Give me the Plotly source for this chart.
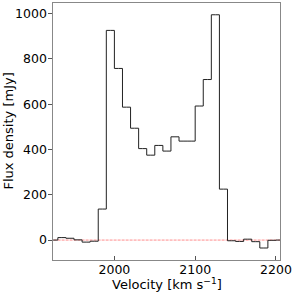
import plotly.graph_objects as go

velocity = [1915, 1925, 1935, 1945, 1955, 1965, 1975, 1985, 1995, 2005, 2015, 2025,
            2035, 2045, 2055, 2065, 2075, 2085, 2095, 2105, 2115, 2125, 2135,
            2145, 2155, 2165, 2175, 2185, 2195, 2205, 2215]
flux = [0, 0, 11, 8, 1, -9, -5, 137, 926, 758, 587, 494,
        404, 375, 418, 393, 456, 437, 437, 592, 709, 995, 225,
        -3, -6, 4, -7, -35, -1, 0, 0]
x_ticks = [2000, 2100, 2200]
y_ticks = [0, 200, 400, 600, 800, 1000]
x_title = "Velocity [km s<sup>−1</sup>]"
y_title = "Flux density [mJy]"

fig = go.Figure()
fig.add_trace(go.Scatter(x=[1900, 2230], y=[0, 0], mode="lines",
                         line=dict(color="rgba(255,0,0,0.5)", width=0.9, dash="3px,1px"),
                         hoverinfo="skip", showlegend=False))
fig.add_trace(go.Scatter(x=velocity, y=flux, mode="lines", line_shape="hvh",
                         line=dict(color="#222222", width=1), showlegend=False))

axis_common = dict(showgrid=False, zeroline=False, showline=True, linecolor="#888888",
                   linewidth=1.3, mirror=True, tickwidth=1,
                   tickcolor="#555555", automargin=False,
                   tickfont=dict(family="DejaVu Sans", size=12.5, color="black"))

title_font = dict(family="DejaVu Sans", size=13, color="black")

fig.update_layout(
    width=296, height=295,
    margin=dict(l=53, r=16, t=3, b=35),
    paper_bgcolor="white", plot_bgcolor="white",
    xaxis=dict(range=[1924, 2205], tickvals=x_ticks, ticks="inside", ticklen=4,
               ticklabelstandoff=-2, **axis_common),
    yaxis=dict(range=[-88, 1047], tickvals=y_ticks, ticks="outside", ticklen=3.5,
               ticklabelstandoff=-1, **axis_common),
    annotations=[
        dict(text=x_title, xref="paper", yref="paper", x=0.5, y=-0.093,
             xanchor="center", yanchor="middle", showarrow=False, font=title_font),
        dict(text=y_title, xref="paper", yref="paper", x=-0.198, y=0.5,
             xanchor="center", yanchor="middle", textangle=-90, showarrow=False,
             font=title_font),
    ],
)

fig.write_html("out.html", config={"displayModeBar": False},
               post_script="document.body.style.margin='0';document.body.style.overflow='hidden';")
